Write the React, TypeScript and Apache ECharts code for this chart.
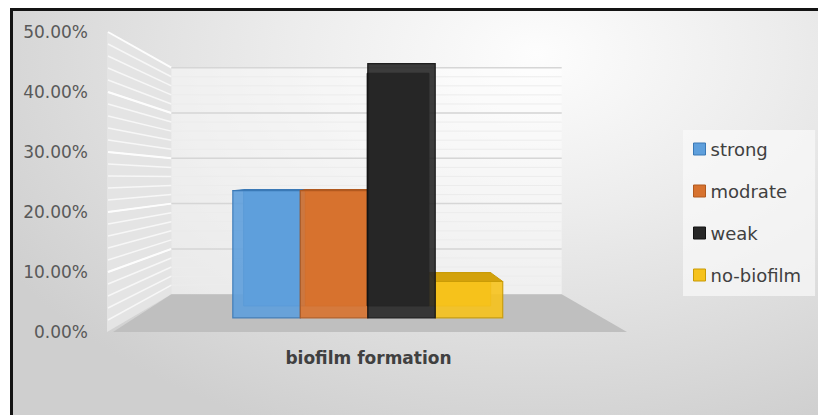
import { useEffect, useRef } from "react";
import * as echarts from "echarts";

const categories = ["biofilm formation"];
const seriesNames = ["strong", "modrate", "weak", "no-biofilm"];
const seriesValues = [0.2333, 0.2333, 0.4667, 0.0667];
const yTicks = [0, 0.1, 0.2, 0.3, 0.4, 0.5];

const COLORS = ["#5e9fdc", "#d7722f", "#272727", "#f6c21c"];
const BORDERS = ["#3a78b5", "#b0591f", "#121212", "#c89a06"];
const TOPS = ["#4d8bc7", "#b9601f", "#1c1c1c", "#d3a20c"];
const BAR_Z = [3, 4, 6, 5];

const Y_MAX = 0.5;
const MINOR = 0.02;
const EYE = 0.257; // value at eye level on front plane
const VP_DX = -8; // vanishing point offset from band centre
const SB = 0.755; // back wall scale
const BAR_SF = 0.908; // bar front face scale
const BAR_SB = 0.831; // bar back face scale
const GROUP_FRAC = 0.575;
const FONT = "DejaVu Sans";

type Pt = [number, number];
const proj = (vp: Pt, x: number, y: number, s: number): Pt => [
  vp[0] + (x - vp[0]) * s,
  vp[1] + (y - vp[1]) * s,
];

export default function App() {
  const ref = useRef<HTMLDivElement>(null);
  useEffect(() => {
    if (!ref.current) return;
    const chart = echarts.init(ref.current, undefined, { renderer: "svg" });

    const wallItem = (params: any, api: any) => {
      const v = api.value(1);
      const c0 = api.coord([0, 0]);
      const cx = c0[0];
      const y0 = c0[1];
      const yTop = api.coord([0, Y_MAX])[1];
      const bw = api.size([1, 0])[0];
      const L = cx - bw / 2;
      const R = cx + bw / 2;
      const vp: Pt = [cx + VP_DX, api.coord([0, EYE])[1]];
      const yv = api.coord([0, v])[1];
      const children: any[] = [];
      if (params.dataIndex === 0) {
        children.push({
          type: "polygon",
          shape: { points: [[L - 3, yTop], [L - 3, y0], proj(vp, L, y0, SB), proj(vp, L, yTop, SB)] },
          style: { fill: "#e4e4e4" },
        });
        const a = proj(vp, L, yTop, SB);
        const b = proj(vp, R, y0, SB);
        children.push({
          type: "rect",
          shape: { x: a[0], y: a[1], width: b[0] - a[0], height: b[1] - a[1] },
          style: { fill: "rgba(255,255,255,0.45)" },
        });
        for (let m = MINOR; m < Y_MAX - 1e-6; m += MINOR) {
          const ym = api.coord([0, m])[1];
          const p = proj(vp, L, ym, SB);
          const q = proj(vp, R, ym, SB);
          children.push({
            type: "line",
            shape: { x1: L - 2, y1: ym, x2: p[0], y2: p[1] },
            style: { stroke: "#f7f7f7", lineWidth: 1.5 },
          });
          children.push({
            type: "line",
            shape: { x1: p[0], y1: p[1], x2: q[0], y2: q[1] },
            style: { stroke: "#ececec", lineWidth: 1 },
          });
        }
        children.push({
          type: "polygon",
          shape: { points: [[L + 3, y0], [R, y0], proj(vp, R, y0, SB), proj(vp, L, y0, SB)] },
          style: { fill: "#bfbfbf" },
        });
      }
      const p = proj(vp, L, yv, SB);
      const q = proj(vp, R, yv, SB);
      if (v > 0) {
        children.push({
          type: "line",
          shape: { x1: L - 2, y1: yv, x2: p[0], y2: p[1] },
          style: { stroke: "#fdfdfd", lineWidth: 2 },
        });
        children.push({
          type: "line",
          shape: { x1: p[0], y1: p[1], x2: q[0], y2: q[1] },
          style: { stroke: "#d6d6d6", lineWidth: 1.5 },
        });
      }
      return { type: "group", children };
    };

    const barItem = (params: any, api: any) => {
      const i = seriesNames.indexOf(params.seriesName);
      const v = api.value(1);
      const c0 = api.coord([0, 0]);
      const cx = c0[0];
      const y0 = c0[1];
      const yt = api.coord([0, v])[1];
      const bw = api.size([1, 0])[0];
      const gw = bw * GROUP_FRAC;
      const w = gw / seriesNames.length;
      const x0 = cx - gw / 2 + i * w;
      const x1 = x0 + w;
      const vp: Pt = [cx + VP_DX, api.coord([0, EYE])[1]];
      const face = (s: number) => [
        proj(vp, x0, yt, s),
        proj(vp, x1, yt, s),
        proj(vp, x1, y0, s),
        proj(vp, x0, y0, s),
      ];
      const back = face(BAR_SB);
      const front = face(BAR_SF);
      const children: any[] = [
        {
          type: "polygon",
          shape: { points: back },
          style: { fill: COLORS[i], stroke: BORDERS[i], lineWidth: 1 },
        },
      ];
      if (yt > vp[1]) {
        children.push({
          type: "polygon",
          shape: { points: [front[0], front[1], back[1], back[0]] },
          style: { fill: TOPS[i], stroke: BORDERS[i], lineWidth: 1 },
        });
      }
      children.push({
        type: "polygon",
        shape: { points: front },
        style: { fill: COLORS[i], opacity: 0.9, stroke: BORDERS[i], lineWidth: 1.2 },
      });
      return { type: "group", children };
    };

    chart.setOption({
      animation: false,
      grid: { left: 110, right: 191, top: 32, bottom: 83 },
      xAxis: {
        type: "category",
        data: categories,
        axisLine: { show: false },
        axisTick: { show: false },
        splitLine: { show: false },
        axisLabel: {
          margin: 17,
          fontSize: 17,
          fontWeight: "bold",
          color: "#404040",
          fontFamily: FONT,
        },
      },
      yAxis: {
        type: "value",
        min: 0,
        max: Y_MAX,
        interval: 0.1,
        axisLine: { show: false },
        axisTick: { show: false },
        splitLine: { show: false },
        axisLabel: {
          margin: 22,
          fontSize: 17,
          color: "#595959",
          fontFamily: FONT,
          formatter: (val: number) => (val * 100).toFixed(2) + "%",
        },
      },
      legend: {
        orient: "vertical",
        left: 683,
        top: 130,
        padding: [10, 14, 12, 10],
        itemGap: 24,
        itemWidth: 12,
        itemHeight: 12,
        backgroundColor: "rgba(250,250,250,0.7)",
        textStyle: { fontSize: 18, color: "#404040", fontFamily: FONT },
        data: seriesNames.map((n, i) => ({
          name: n,
          icon: "rect",
          itemStyle: { color: COLORS[i], borderColor: BORDERS[i], borderWidth: 1 },
        })),
      },
      series: [
        {
          type: "custom",
          name: "walls",
          silent: true,
          z: 1,
          renderItem: wallItem,
          data: yTicks.map((t) => [0, t]),
        },
        ...seriesNames.map((n, i) => ({
          type: "custom",
          name: n,
          z: BAR_Z[i],
          itemStyle: { color: COLORS[i] },
          renderItem: barItem,
          data: [[0, seriesValues[i]]],
        })),
      ],
    });
    return () => chart.dispose();
  }, []);

  return (
    <div style={{ position: "fixed", left: 0, top: 0, width: 818, height: 415, background: "#ffffff", overflow: "hidden" }}>
      <div
        style={{
          position: "absolute",
          left: 10,
          top: 8,
          width: 830,
          height: 430,
          borderLeft: "3px solid #141414",
          borderTop: "3px solid #141414",
          background:
            "radial-gradient(ellipse 75% 95% at 63% 10%, #fdfdfd 0%, #ececec 40%, #cfcfcf 100%)",
        }}
      />
      <div ref={ref} style={{ position: "absolute", left: 0, top: 0, width: 818, height: 415 }} />
    </div>
  );
}
